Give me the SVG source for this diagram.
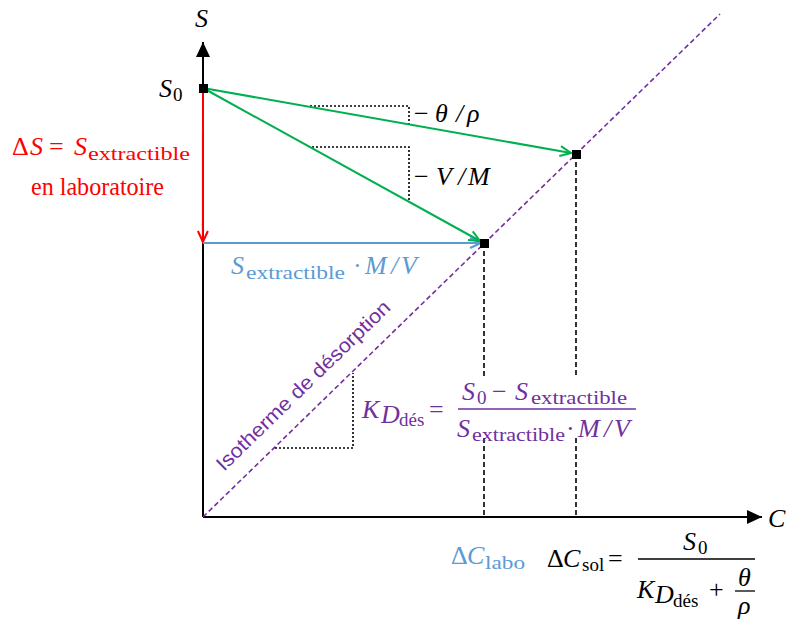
<svg xmlns="http://www.w3.org/2000/svg" width="786" height="622" viewBox="0 0 786 622">
<style>
text{font-family:"Liberation Serif",serif;font-size:26px}
.i{font-style:italic}
.s{font-size:19px;font-style:normal}
.red{fill:#FF0000}.blu{fill:#5B9BD5}.pur{fill:#7030A0}
.ax{stroke:#000;stroke-width:2;fill:none}
.dot{stroke:#000;stroke-width:1.6;stroke-dasharray:2 2;fill:none}
.dash{stroke:#000;stroke-width:1.6;stroke-dasharray:5 3;fill:none}
</style>
<defs>
<marker id="ah" markerUnits="userSpaceOnUse" markerWidth="16" markerHeight="14" refX="15" refY="7" orient="auto"><path d="M0,0 L15,7 L0,14 Z" fill="#000"/></marker>
<marker id="ag" markerUnits="userSpaceOnUse" markerWidth="14" markerHeight="14" refX="12" refY="6" orient="auto"><path d="M1,1 L12,6 L1,11" fill="none" stroke="#00B050" stroke-width="2"/></marker>
<marker id="ar" markerUnits="userSpaceOnUse" markerWidth="14" markerHeight="14" refX="12" refY="6" orient="auto"><path d="M1,1 L12,6 L1,11" fill="none" stroke="#FF0000" stroke-width="2"/></marker>
<marker id="ab" markerUnits="userSpaceOnUse" markerWidth="14" markerHeight="14" refX="12" refY="6" orient="auto"><path d="M1,1 L12,6 L1,11" fill="none" stroke="#5B9BD5" stroke-width="2"/></marker>
</defs>
<rect width="786" height="622" fill="#fff"/>
<g id="connectors">
<line class="ax" x1="203" y1="517" x2="203" y2="42" marker-end="url(#ah)"/>
<line class="ax" x1="203" y1="517" x2="762" y2="517" marker-end="url(#ah)"/>
<line x1="203" y1="517" x2="720" y2="14" stroke="#7030A0" stroke-width="1.6" stroke-dasharray="5 3"/>
<path class="dash" d="M484,243 V377 M484,438 V517 M576,154 V377 M576,438 V517"/>
<path class="dot" d="M310,106 H409 V124"/>
<path class="dot" d="M312,147 H409 V201"/>
<path class="dot" d="M275,448 H353 V373"/>
<line x1="203" y1="88" x2="202.9" y2="242" stroke="#FF0000" stroke-width="2" marker-end="url(#ar)"/>
<line x1="203" y1="243" x2="481" y2="243" stroke="#5B9BD5" stroke-width="2" marker-end="url(#ab)"/>
<line x1="203" y1="88" x2="571" y2="153" stroke="#00B050" stroke-width="2" marker-end="url(#ag)"/>
<line x1="203" y1="88" x2="480" y2="241" stroke="#00B050" stroke-width="2" marker-end="url(#ag)"/>
</g>
<g id="axis-S"><text class="i" x="195" y="27" font-size="29">S</text></g>
<g id="axis-C"><text class="i" x="768" y="527" font-size="29">C</text></g>
<g id="point-S0"><rect x="199" y="84" width="9" height="9" fill="#000"/>
<text x="159" y="97" class="i">S</text><text class="s" x="173" y="101" font-size="20">0</text></g>
<g id="point-labo"><rect x="480" y="239" width="9" height="9" fill="#000"/></g>
<g id="point-sol"><rect x="572" y="150" width="9" height="9" fill="#000"/></g>
<g id="slope-theta"><text x="414" y="122">−</text><text class="i" x="435" y="122">θ</text><text x="456" y="122" class="i">/</text><text class="i" x="467" y="122">ρ</text></g>
<g id="slope-VM"><text x="414" y="185">−</text><text class="i" x="436" y="185">V</text><text x="458" y="185" class="i">/</text><text class="i" x="468" y="185">M</text></g>
<g id="deltaS">
<text class="red" x="12" y="155">Δ</text><text class="i red" x="30" y="155">S</text><text class="red" x="49" y="155">=</text><text class="i red" x="74" y="155">S</text>
<text class="s red" x="88" y="160" textLength="102" lengthAdjust="spacingAndGlyphs">extractible</text>
<text class="red" x="31" y="195" font-size="20" textLength="133" lengthAdjust="spacingAndGlyphs">en laboratoire</text>
</g>
<g id="label-blue">
<text class="i blu" x="231" y="274">S</text><text class="s blu" x="246" y="279" textLength="99" lengthAdjust="spacingAndGlyphs">extractible</text>
<text class="blu" x="353" y="274">·</text><text class="i blu" x="365" y="274">M</text><text class="i blu" x="391" y="274">/</text><text class="i blu" x="401" y="274">V</text>
</g>
<g id="isotherme"><text class="pur" transform="translate(224,472) rotate(-44.2)" style="font-family:'Liberation Sans',sans-serif;font-size:20px" textLength="234" lengthAdjust="spacingAndGlyphs">Isotherme de désorption</text></g>
<g id="KD">
<text class="i pur" x="362" y="418">K</text><text class="i pur" x="381" y="423" font-size="15">D</text><text class="s pur" x="399" y="426" font-size="18">dés</text>
<text class="pur" x="429" y="418">=</text>
<text class="i pur" x="462" y="400">S</text><text class="s pur" x="477" y="404">0</text><text class="pur" x="492" y="400">−</text><text class="i pur" x="515" y="400">S</text><text class="s pur" x="531" y="404" textLength="96" lengthAdjust="spacingAndGlyphs">extractible</text>
<line x1="458" y1="409" x2="636" y2="409" stroke="#7030A0" stroke-width="1.5"/>
<text class="i pur" x="457" y="437">S</text><text class="s pur" x="472" y="441" textLength="93" lengthAdjust="spacingAndGlyphs">extractible</text>
<text class="pur" x="566" y="437">·</text><text class="i pur" x="578" y="437">M</text><text class="i pur" x="604" y="437">/</text><text class="i pur" x="614" y="437">V</text>
</g>
<g id="dC-labo"><text class="blu" x="451" y="564">Δ</text><text class="i blu" x="467" y="564">C</text><text class="s blu" x="485" y="569" textLength="40" lengthAdjust="spacingAndGlyphs">labo</text></g>
<g id="dC-sol">
<text x="547" y="567">Δ</text><text class="i" x="563" y="567">C</text><text class="s" x="582" y="571">sol</text><text x="608" y="567">=</text>
<text class="i" x="683" y="550">S</text><text class="s" x="698" y="554">0</text>
<line x1="638" y1="559" x2="755" y2="559" stroke="#000" stroke-width="1.5"/>
<text class="i" x="637" y="598">K</text><text class="i" x="655" y="603" font-size="15">D</text><text class="s" x="673" y="607" font-size="18">dés</text>
<text x="709" y="598">+</text>
<text class="i" x="738" y="586" font-size="20">θ</text>
<line x1="735" y1="591" x2="755" y2="591" stroke="#000" stroke-width="1.3"/>
<text class="i" x="738" y="614" font-size="20">ρ</text>
</g>
</svg>
